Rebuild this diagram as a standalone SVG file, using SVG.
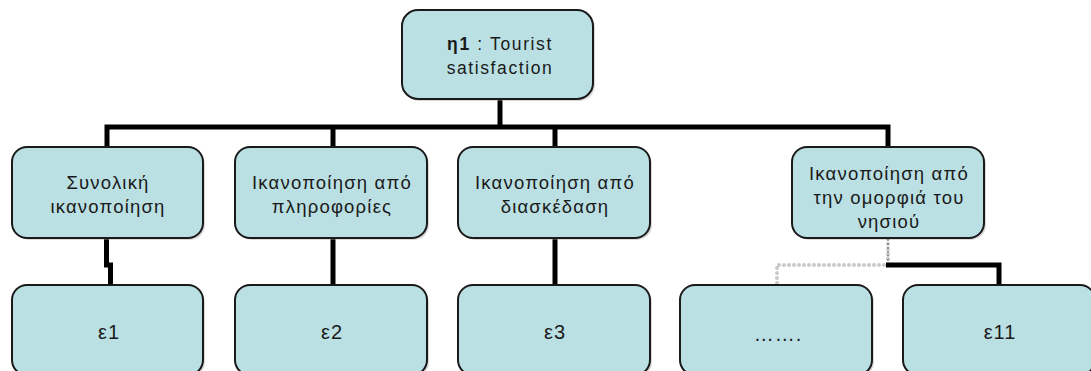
<svg xmlns="http://www.w3.org/2000/svg" width="1091" height="371" viewBox="0 0 1091 371">
  <style>
    .box { fill: #bae0e3; stroke: #1a1a1a; stroke-width: 2; }
    .shadow { fill: #a0a0a0; opacity: 0.4; }
    .lbl { font-family: "Liberation Sans", Arial, sans-serif; font-size: 18.5px; letter-spacing: 1.2px; fill: #1a1a1a; text-anchor: middle; }
    .top { font-size: 17.5px; letter-spacing: 1.6px; }
    .leaf { font-size: 20px; letter-spacing: 1px; }
    .wire { fill: none; stroke: #000; stroke-width: 5; stroke-linejoin: miter; }
    .dots { fill: none; stroke: #c8c8c8; stroke-width: 4; stroke-linecap: round; stroke-dasharray: 0 5; }
    .dots-core { fill: none; stroke: #555; stroke-width: 1.2; stroke-dasharray: 1.5 2.5; }
  </style>

  <rect width="1091" height="371" fill="#ffffff"/>

  <!-- connectors -->
  <g id="connectors">
    <path class="wire" d="M500 99 V127"/>
    <path class="wire" d="M107 147 V127 H888 V147"/>
    <path class="wire" d="M333 127 V147"/>
    <path class="wire" d="M555 127 V147"/>
    <path class="wire" d="M106.5 238 V265 H110.5 V285"/>
    <path class="wire" d="M333 238 V285"/>
    <path class="wire" d="M555 238 V285"/>
    <path class="dots" d="M888 239 V265 H777 V284"/>
    <path class="dots-core" d="M888 239 V264"/>
    <path class="wire" d="M886 265 H999 V285"/>
  </g>

  <!-- root -->
  <g id="node-eta1">
    <rect class="shadow" x="404" y="12" width="191" height="89" rx="16"/>
    <rect class="box" x="402" y="10" width="191" height="89" rx="16"/>
    <text class="lbl top" x="500" y="50"><tspan font-weight="bold">η1</tspan> : Tourist</text>
    <text class="lbl top" x="500" y="74">satisfaction</text>
  </g>

  <!-- second level -->
  <g id="node-overall">
    <rect class="shadow" x="14" y="149" width="191" height="91" rx="15"/>
    <rect class="box" x="12" y="147" width="191" height="91" rx="15"/>
    <text class="lbl" x="108" y="189">Συνολική</text>
    <text class="lbl" x="108" y="213">ικανοποίηση</text>
  </g>
  <g id="node-info">
    <rect class="shadow" x="237" y="149" width="192" height="91" rx="15"/>
    <rect class="box" x="235" y="147" width="192" height="91" rx="15"/>
    <text class="lbl" x="332" y="189">Ικανοποίηση από</text>
    <text class="lbl" x="332" y="213">πληροφορίες</text>
  </g>
  <g id="node-fun">
    <rect class="shadow" x="460" y="149" width="192" height="91" rx="15"/>
    <rect class="box" x="458" y="147" width="192" height="91" rx="15"/>
    <text class="lbl" x="555" y="189">Ικανοποίηση από</text>
    <text class="lbl" x="555" y="213">διασκέδαση</text>
  </g>
  <g id="node-beauty">
    <rect class="shadow" x="794" y="149" width="192" height="91" rx="15"/>
    <rect class="box" x="792" y="147" width="192" height="91" rx="15"/>
    <text class="lbl" x="889" y="180">Ικανοποίηση από</text>
    <text class="lbl" x="889" y="204">την ομορφιά του</text>
    <text class="lbl" x="889" y="228">νησιού</text>
  </g>

  <!-- indicators -->
  <g id="node-e1">
    <rect class="shadow" x="14" y="287" width="191" height="90" rx="15"/>
    <rect class="box" x="12" y="285" width="191" height="90" rx="15"/>
    <text class="lbl leaf" x="109" y="339">ε1</text>
  </g>
  <g id="node-e2">
    <rect class="shadow" x="237" y="287" width="192" height="90" rx="15"/>
    <rect class="box" x="235" y="285" width="192" height="90" rx="15"/>
    <text class="lbl leaf" x="332" y="339">ε2</text>
  </g>
  <g id="node-e3">
    <rect class="shadow" x="460" y="287" width="192" height="90" rx="15"/>
    <rect class="box" x="458" y="285" width="192" height="90" rx="15"/>
    <text class="lbl leaf" x="555" y="339">ε3</text>
  </g>
  <g id="node-more">
    <rect class="shadow" x="682" y="287" width="192" height="90" rx="15"/>
    <rect class="box" x="680" y="285" width="192" height="90" rx="15"/>
    <text class="lbl leaf" x="778" y="341">…….</text>
  </g>
  <g id="node-e11">
    <rect class="shadow" x="905" y="287" width="192" height="90" rx="15"/>
    <rect class="box" x="903" y="285" width="192" height="90" rx="15"/>
    <text class="lbl leaf" x="1000" y="339">ε11</text>
  </g>
</svg>
